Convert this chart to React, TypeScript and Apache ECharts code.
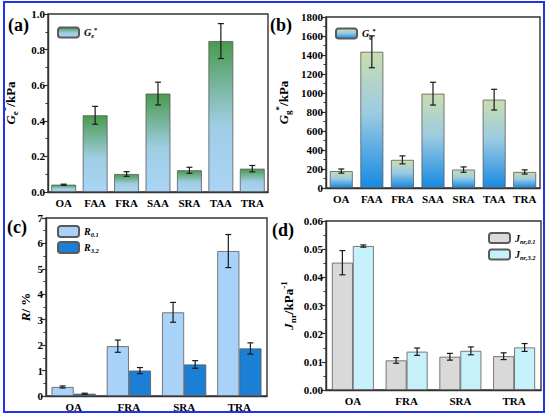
import React, { useEffect, useRef } from 'react';
import * as echarts from 'echarts';

const categoriesAB = ['OA', 'FAA', 'FRA', 'SAA', 'SRA', 'TAA', 'TRA'];
const geValues = [0.041, 0.431, 0.101, 0.553, 0.122, 0.848, 0.131];
const geErrors = [0.003, 0.05, 0.013, 0.064, 0.017, 0.098, 0.018];
const ggValues = [178, 1434, 296, 993, 194, 930, 169];
const ggErrors = [22, 168, 42, 120, 28, 109, 22];
const categoriesCD = ['OA', 'FRA', 'SRA', 'TRA'];
const r01Values = [0.355, 1.96, 3.29, 5.7];
const r01Errors = [0.04, 0.24, 0.39, 0.65];
const r32Values = [0.09, 1.0, 1.24, 1.87];
const r32Errors = [0.02, 0.12, 0.15, 0.22];
const j01Values = [0.0452, 0.0105, 0.0118, 0.012];
const j01Errors = [0.0043, 0.001, 0.0012, 0.0012];
const j32Values = [0.0511, 0.0136, 0.0139, 0.0151];
const j32Errors = [0.0004, 0.0013, 0.0014, 0.0014];

const FONT = 'Liberation Serif';

const richStyles = {
  n: { fontFamily: FONT, fontWeight: 'bold', fontSize: 13, lineHeight: 18, color: '#000' },
  i: { fontFamily: FONT, fontWeight: 'bold', fontStyle: 'italic', fontSize: 13, lineHeight: 18, color: '#000' },
  sub: { fontFamily: FONT, fontWeight: 'bold', fontSize: 9, lineHeight: 9, verticalAlign: 'bottom', color: '#000' },
  sup: { fontFamily: FONT, fontWeight: 'bold', fontSize: 9, lineHeight: 9, verticalAlign: 'top', color: '#000' },
};
const legendRich = {
  n: { fontFamily: FONT, fontWeight: 'bold', fontSize: 10, lineHeight: 13, color: '#000' },
  i: { fontFamily: FONT, fontWeight: 'bold', fontStyle: 'italic', fontSize: 10, lineHeight: 13, color: '#000' },
  sub: { fontFamily: FONT, fontWeight: 'bold', fontStyle: 'italic', fontSize: 6.5, lineHeight: 6, verticalAlign: 'bottom', color: '#000' },
  sup: { fontFamily: FONT, fontWeight: 'bold', fontSize: 6.5, lineHeight: 6, verticalAlign: 'top', color: '#000' },
};

const legendText: Record<string, string> = {
  Ge: '{i|G}{sub|e}{sup|*}',
  Gg: '{i|G}{sub|g}{sup|*}',
  R01: '{i|R}{sub|0.1}',
  R32: '{i|R}{sub|3.2}',
  J01: '{i|J}{sub|nr,0.1}',
  J32: '{i|J}{sub|nr,3.2}',
};

function grad(stops: [number, string][]) {
  return new echarts.graphic.LinearGradient(0, 0, 0, 1, stops.map(([offset, color]) => ({ offset, color })));
}

function errData(vals: number[], errs: number[]) {
  return vals.map((v, i) => [i, v, errs[i]]);
}

function errorRender(idx: number, count: number, gapFrac: number) {
  return (params: any, api: any) => {
    const cat = api.value(0);
    const v = api.value(1);
    const e = api.value(2);
    const band = api.size([1, 0])[0];
    const bw = (band * (1 - gapFrac)) / count;
    const off = (idx - (count - 1) / 2) * bw;
    const top = api.coord([cat, v + e]);
    const bot = api.coord([cat, v - e]);
    const x = top[0] + off;
    const cap = 3;
    const st = { stroke: '#1a1a1a', lineWidth: 1.2 };
    return {
      type: 'group',
      children: [
        { type: 'line', shape: { x1: x, y1: top[1], x2: x, y2: bot[1] }, style: st },
        { type: 'line', shape: { x1: x - cap, y1: top[1], x2: x + cap, y2: top[1] }, style: st },
        { type: 'line', shape: { x1: x - cap, y1: bot[1], x2: x + cap, y2: bot[1] }, style: st },
      ],
    };
  };
}

const axisLabel = { fontFamily: FONT, fontWeight: 'bold', fontSize: 11, color: '#000' };
const axisLineStyle = { color: '#333', width: 1.4 };

function makeX(gridIndex: number, data: string[]) {
  return {
    type: 'category',
    gridIndex,
    data,
    axisLine: { lineStyle: axisLineStyle },
    axisTick: { alignWithLabel: true, length: 4, lineStyle: { color: '#333', width: 1.2 } },
    axisLabel: { ...axisLabel, margin: 5 },
  };
}

function makeY(gridIndex: number, max: number, interval: number, decimals: number, name: string, nameGap: number) {
  return {
    type: 'value',
    gridIndex,
    min: 0,
    max,
    interval,
    splitLine: { show: false },
    axisLine: { show: true, lineStyle: axisLineStyle },
    axisTick: { show: true, length: 4, lineStyle: { color: '#333', width: 1.2 } },
    minorTick: { show: true, splitNumber: 2, length: 2.5, lineStyle: { color: '#333', width: 1 } },
    axisLabel: { ...axisLabel, margin: 3, formatter: (v: number) => v.toFixed(decimals) },
    name,
    nameLocation: 'middle',
    nameRotate: 90,
    nameGap,
    nameTextStyle: { rich: richStyles },
  };
}

const barBorder = { borderColor: '#5a5a5a', borderWidth: 0.8 };

export default function App() {
  const ref = useRef<HTMLDivElement>(null);
  useEffect(() => {
    if (!ref.current) return;
    const chart = echarts.init(ref.current, undefined, { renderer: 'svg' });
    const gradA = grad([[0, '#4a9a4e'], [0.55, '#9fcde2'], [1, '#a9d4f8']]);
    const gradB = grad([[0, '#c9ddae'], [0.45, '#9ccbe2'], [1, '#168ae2']]);
    const option: any = {
      animation: false,
      backgroundColor: '#fff',
      grid: [
        { left: 46, top: 14, width: 222, height: 178, show: true, borderColor: '#333', borderWidth: 1.4 },
        { left: 326, top: 17, width: 214, height: 171, show: true, borderColor: '#333', borderWidth: 1.4 },
        { left: 46, top: 218, width: 221, height: 178, show: true, borderColor: '#333', borderWidth: 1.4 },
        { left: 326, top: 221, width: 215, height: 169, show: true, borderColor: '#333', borderWidth: 1.4 },
      ],
      xAxis: [makeX(0, categoriesAB), makeX(1, categoriesAB), makeX(2, categoriesCD), makeX(3, categoriesCD)],
      yAxis: [
        makeY(0, 1.0, 0.2, 1, '{i|G}{sub|e}{sup|*}{n|/kPa}', 29),
        makeY(1, 1800, 200, 0, '{i|G}{sub|g}{sup|*}{n|/kPa}', 34),
        makeY(2, 7, 1, 0, '{i|R}{n|/ %}', 12),
        makeY(3, 0.06, 0.01, 2, '{i|J}{sub|nr}{n|/kPa}{sup|-1}', 29),
      ],
      legend: [
        {
          data: ['Ge'], left: 52, top: 21, itemWidth: 21, itemHeight: 10, itemGap: 3,
          formatter: (n: string) => legendText[n], textStyle: { rich: legendRich },
        },
        {
          data: ['Gg'], left: 330, top: 22, itemWidth: 21, itemHeight: 10, itemGap: 3,
          formatter: (n: string) => legendText[n], textStyle: { rich: legendRich },
        },
        {
          data: ['R01', 'R32'], orient: 'vertical', left: 52, top: 220, itemWidth: 21, itemHeight: 11, itemGap: 3,
          formatter: (n: string) => legendText[n], textStyle: { rich: legendRich },
        },
        {
          data: ['J01', 'J32'], orient: 'vertical', left: 483, top: 227, itemWidth: 21, itemHeight: 10, itemGap: 4,
          formatter: (n: string) => legendText[n], textStyle: { rich: legendRich },
        },
      ],
      series: [
        {
          name: 'Ge', type: 'bar', xAxisIndex: 0, yAxisIndex: 0, data: geValues, barCategoryGap: '21%',
          itemStyle: { color: gradA, ...barBorder },
        },
        {
          type: 'custom', xAxisIndex: 0, yAxisIndex: 0, data: errData(geValues, geErrors), z: 5,
          encode: { x: 0, y: 1 }, renderItem: errorRender(0, 1, 0.21),
        },
        {
          name: 'Gg', type: 'bar', xAxisIndex: 1, yAxisIndex: 1, data: ggValues, barCategoryGap: '25%',
          itemStyle: { color: gradB, ...barBorder },
        },
        {
          type: 'custom', xAxisIndex: 1, yAxisIndex: 1, data: errData(ggValues, ggErrors), z: 5,
          encode: { x: 0, y: 1 }, renderItem: errorRender(0, 1, 0.25),
        },
        {
          name: 'R01', type: 'bar', xAxisIndex: 2, yAxisIndex: 2, data: r01Values, barCategoryGap: '20%', barGap: '0%',
          itemStyle: { color: '#a8d2f8', ...barBorder },
        },
        {
          name: 'R32', type: 'bar', xAxisIndex: 2, yAxisIndex: 2, data: r32Values, barCategoryGap: '20%', barGap: '0%',
          itemStyle: { color: '#1b7fd6', ...barBorder },
        },
        {
          type: 'custom', xAxisIndex: 2, yAxisIndex: 2, data: errData(r01Values, r01Errors), z: 5,
          encode: { x: 0, y: 1 }, renderItem: errorRender(0, 2, 0.2),
        },
        {
          type: 'custom', xAxisIndex: 2, yAxisIndex: 2, data: errData(r32Values, r32Errors), z: 5,
          encode: { x: 0, y: 1 }, renderItem: errorRender(1, 2, 0.2),
        },
        {
          name: 'J01', type: 'bar', xAxisIndex: 3, yAxisIndex: 3, data: j01Values, barCategoryGap: '22%', barGap: '0%',
          itemStyle: { color: '#d9d9d9', ...barBorder },
        },
        {
          name: 'J32', type: 'bar', xAxisIndex: 3, yAxisIndex: 3, data: j32Values, barCategoryGap: '22%', barGap: '0%',
          itemStyle: { color: '#c6f1fb', ...barBorder },
        },
        {
          type: 'custom', xAxisIndex: 3, yAxisIndex: 3, data: errData(j01Values, j01Errors), z: 5,
          encode: { x: 0, y: 1 }, renderItem: errorRender(0, 2, 0.22),
        },
        {
          type: 'custom', xAxisIndex: 3, yAxisIndex: 3, data: errData(j32Values, j32Errors), z: 5,
          encode: { x: 0, y: 1 }, renderItem: errorRender(1, 2, 0.22),
        },
      ],
      graphic: [
        { type: 'rect', shape: { x: 4, y: 2, width: 540, height: 410 }, style: { fill: 'none', stroke: '#2233ee', lineWidth: 2 }, z: 100 },
        { type: 'text', left: 8, top: 16, style: { text: '(a)', font: `bold 18px "${FONT}"`, fill: '#000' } },
        { type: 'text', left: 270, top: 16, style: { text: '(b)', font: `bold 18px "${FONT}"`, fill: '#000' } },
        { type: 'text', left: 7, top: 218, style: { text: '(c)', font: `bold 18px "${FONT}"`, fill: '#000' } },
        { type: 'text', left: 272, top: 221, style: { text: '(d)', font: `bold 18px "${FONT}"`, fill: '#000' } },
      ],
    };
    chart.setOption(option);
    return () => chart.dispose();
  }, []);
  return <div ref={ref} style={{ position: 'absolute', left: 0, top: 0, width: 550, height: 417 }} />;
}
